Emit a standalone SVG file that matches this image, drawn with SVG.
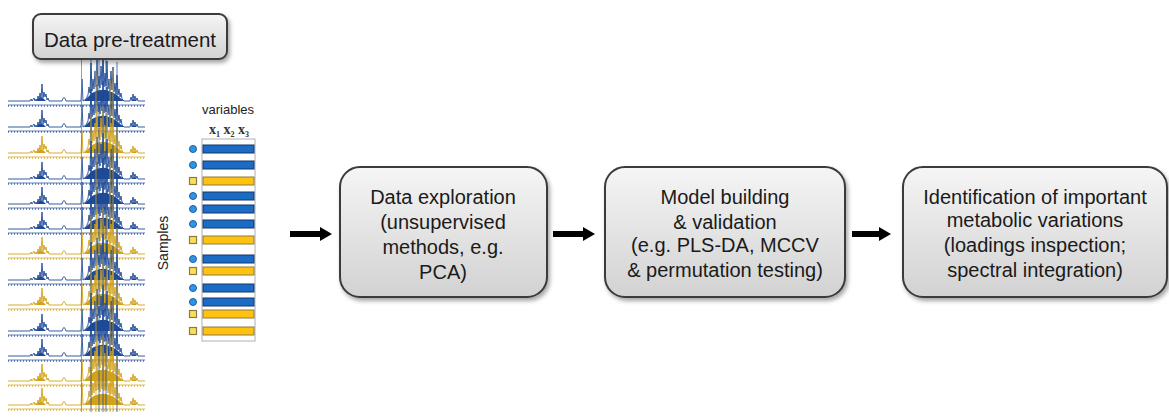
<svg xmlns="http://www.w3.org/2000/svg" xmlns:xlink="http://www.w3.org/1999/xlink" width="1169" height="417" viewBox="0 0 1169 417">
<style>
.box{fill:url(#boxg);stroke:#3a3a3a;stroke-width:2;filter:url(#sh)}
.lbl{font-family:"Liberation Sans",Arial,sans-serif;font-size:20px;fill:#1a1a1a;text-anchor:middle}
.sm{font-family:"Liberation Sans",Arial,sans-serif;font-size:13px;fill:#222}
.blue{stroke:#1f4a96;fill:#1f4a96;color:#1f4a96}
.yel{stroke:#d2a21a;fill:#d2a21a;color:#d2a21a}
.bb{fill:#1a6cc4;stroke:#17376b;stroke-width:1}
.yb{fill:#ffc20e;stroke:#8c7a44;stroke-width:1}
.dot{fill:#2f93e6;stroke:#1d5f9e;stroke-width:1}
.sq{fill:#f8e05a;stroke:#8c7a44;stroke-width:1.2}
.conn{stroke:#000;stroke-width:6;fill:none;marker-end:url(#ah)}
</style>
<defs>
<linearGradient id="boxg" x1="0" y1="0" x2="0" y2="1">
<stop offset="0" stop-color="#f5f5f5"/>
<stop offset="1" stop-color="#d2d2d2"/>
</linearGradient>
<filter id="sh" x="-10%" y="-10%" width="125%" height="130%">
<feDropShadow dx="2" dy="3" stdDeviation="2" flood-color="#000" flood-opacity="0.35"/>
</filter>
<marker id="ah" viewBox="0 0 12 14" refX="2" refY="7" markerWidth="12" markerHeight="14" markerUnits="userSpaceOnUse" orient="auto">
<path d="M0,0 L12,7 L0,14 Z" fill="#000"/>
</marker>
<g id="spec">
<path fill="none" stroke-width="0.9" d="M8,0 L30,0 L31,-2 L32,0 L34,-3 L35,0 L36,-2 L37,0 L38,-5 L39,-1 L40,-8 L41,-2 L42,-17 L43,-3 L44,-9 L45,-4 L46,-7 L47,-1 L48,-3 L49,0 L62,0 Q64,-7 66,0 L81,0 L82,-22 L83,0 L86,-2 L88,-6 L89,-14 L90,-8 L91,-38 L92,-10 L93,-22 L94,-12 L95,-30 L96,-14 L97,-42 L98,-15 L99,-25 L100,-13 L101,-35 L102,-16 L103,-46 L104,-14 L105,-28 L106,-15 L107,-40 L108,-12 L109,-22 L110,-10 L111,-30 L112,-11 L113,-34 L114,-9 L115,-18 L116,-7 L117,-26 L118,-6 L119,-12 L120,-4 L121,-8 L122,-2 L124,0 L130,0 L131,-4 L132,-1 L133,-7 L134,-2 L135,-5 L136,-1 L137,-3 L138,0 L145,0"/>
<path stroke="none" d="M84,0 Q88,-4 92,-8 Q100,-12 106,-11 Q114,-9 118,-5 Q121,-2 124,0 Z M36,0 Q41,-7 46,0 Z M131,0 Q134,-4 137,0 Z"/>
<path fill="none" stroke-width="0.9" opacity="0.8" d="M8,4 H145"/>
<path fill="none" stroke-width="2" stroke-dasharray="0.8 2.2" opacity="0.8" d="M8,5 H145"/>
</g>
</defs>
<rect width="1169" height="417" fill="#fff"/>

<g id="spectra">
<use xlink:href="#spec" y="101" class="blue"/>
<use xlink:href="#spec" y="127" class="blue"/>
<use xlink:href="#spec" y="153" class="yel"/>
<use xlink:href="#spec" y="179" class="blue"/>
<use xlink:href="#spec" y="204" class="blue"/>
<use xlink:href="#spec" y="229" class="blue"/>
<use xlink:href="#spec" y="254" class="yel"/>
<use xlink:href="#spec" y="280" class="blue"/>
<use xlink:href="#spec" y="305" class="yel"/>
<use xlink:href="#spec" y="331" class="blue"/>
<use xlink:href="#spec" y="356" class="blue"/>
<use xlink:href="#spec" y="381" class="yel"/>
<use xlink:href="#spec" y="405" class="yel"/>
<g stroke-width="1" opacity="0.75">
<line x1="81.5" y1="60" x2="81.5" y2="412" stroke="#6f7f96"/>
<line x1="91" y1="58" x2="91" y2="412" stroke="#1f4a96"/>
<line x1="96" y1="70" x2="96" y2="412" stroke="#d2a21a"/>
<line x1="99" y1="58" x2="99" y2="412" stroke="#1f4a96"/>
<line x1="103" y1="58" x2="103" y2="412" stroke="#1f4a96"/>
<line x1="106" y1="58" x2="106" y2="412" stroke="#1f4a96"/>
<line x1="110" y1="80" x2="110" y2="412" stroke="#d2a21a"/>
<line x1="113" y1="70" x2="113" y2="412" stroke="#d2a21a"/>
<line x1="117" y1="62" x2="117" y2="412" stroke="#1f4a96"/>
</g>
</g>

<g id="pretreatment">
<rect class="box" x="33" y="14" width="194" height="45" rx="8"/>
<text class="lbl" x="130" y="47" style="font-size:20.5px">Data pre-treatment</text>
</g>

<g id="matrix">
<text class="sm" x="228" y="114" text-anchor="middle">variables</text>
<text x="209" y="134" font-family="Liberation Serif,serif" font-size="14" font-weight="bold" fill="#333">x<tspan font-size="8" dy="3">1</tspan><tspan dy="-3"> x</tspan><tspan font-size="8" dy="3">2</tspan><tspan dy="-3"> x</tspan><tspan font-size="8" dy="3">3</tspan></text>
<text class="sm" transform="translate(168,243) rotate(-90)" text-anchor="middle" style="font-size:14px">Samples</text>
<rect x="202" y="139" width="53" height="202" fill="#fff" stroke="#b0b0b0" stroke-width="1"/>
<rect class="bb" x="203" y="145" width="51" height="8"/>
<rect class="bb" x="203" y="161" width="51" height="8"/>
<rect class="yb" x="203" y="177" width="51" height="8"/>
<rect class="bb" x="203" y="192" width="51" height="8"/>
<rect class="bb" x="203" y="205" width="51" height="8"/>
<rect class="bb" x="203" y="220" width="51" height="8"/>
<rect class="yb" x="203" y="236" width="51" height="8"/>
<rect class="bb" x="203" y="255" width="51" height="8"/>
<rect class="yb" x="203" y="267" width="51" height="8"/>
<rect class="bb" x="203" y="284" width="51" height="8"/>
<rect class="bb" x="203" y="298" width="51" height="8"/>
<rect class="yb" x="203" y="310" width="51" height="8"/>
<rect class="yb" x="203" y="327" width="51" height="8"/>
<circle class="dot" cx="193" cy="149" r="3.5"/>
<circle class="dot" cx="193" cy="165" r="3.5"/>
<rect class="sq" x="189.5" y="177.5" width="7" height="7"/>
<circle class="dot" cx="193" cy="196" r="3.5"/>
<circle class="dot" cx="193" cy="209" r="3.5"/>
<circle class="dot" cx="193" cy="224" r="3.5"/>
<rect class="sq" x="189.5" y="236.5" width="7" height="7"/>
<circle class="dot" cx="193" cy="259" r="3.5"/>
<rect class="sq" x="189.5" y="267.5" width="7" height="7"/>
<circle class="dot" cx="193" cy="288" r="3.5"/>
<circle class="dot" cx="193" cy="302" r="3.5"/>
<rect class="sq" x="189.5" y="310.5" width="7" height="7"/>
<rect class="sq" x="189.5" y="327.5" width="7" height="7"/>
</g>

<g id="exploration">
<rect class="box" x="340" y="167" width="207" height="130" rx="20"/>
<text class="lbl" x="443" y="204">Data exploration</text>
<text class="lbl" x="443" y="229">(unsupervised</text>
<text class="lbl" x="443" y="254">methods, e.g.</text>
<text class="lbl" x="443" y="279">PCA)</text>
</g>

<g id="model">
<rect class="box" x="605" y="167" width="240" height="130" rx="20"/>
<text class="lbl" x="725" y="204">Model building</text>
<text class="lbl" x="725" y="229">&amp; validation</text>
<text class="lbl" x="725" y="252">(e.g. PLS-DA, MCCV</text>
<text class="lbl" x="725" y="277">&amp; permutation testing)</text>
</g>

<g id="identification">
<rect class="box" x="903" y="167" width="264" height="130" rx="20"/>
<text class="lbl" x="1035" y="204">Identification of important</text>
<text class="lbl" x="1035" y="227">metabolic variations</text>
<text class="lbl" x="1035" y="252">(loadings inspection;</text>
<text class="lbl" x="1035" y="277">spectral integration)</text>
</g>

<g id="connectors">
<line class="conn" x1="290" y1="234" x2="322" y2="234"/>
<line class="conn" x1="553" y1="234" x2="585" y2="234"/>
<line class="conn" x1="852" y1="234" x2="881" y2="234"/>
</g>
</svg>
